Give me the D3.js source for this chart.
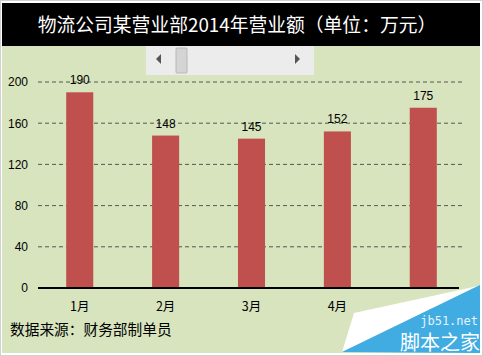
<!DOCTYPE html>
<html><head><meta charset="utf-8">
<script src="https://cdn.jsdelivr.net/npm/d3@7/dist/d3.min.js"></script>
<style>body{margin:0;background:#fff;}svg{display:block;}</style>
</head><body>
<script>
const categories = ["1月","2月","3月","4月","5月"];
const values = [190,148,145,152,175];
const yTicks = [0,40,80,120,160,200];
const title = "物流公司某营业部2014年营业额（单位：万元）";
const source = "数据来源：财务部制单员";

const W=483,H=356;
const svg=d3.select("body").append("svg").attr("width",W).attr("height",H);
const cjk="'Noto Sans CJK SC','Microsoft YaHei',sans-serif";
const lat="Arial,'Liberation Sans',sans-serif";

svg.append("rect").attr("x",0.5).attr("y",0.5).attr("width",W-1).attr("height",H-1).attr("fill","#fff").attr("stroke","#d0d0d0");
svg.append("rect").attr("x",2).attr("y",46).attr("width",478).attr("height",307).attr("fill","#D7E4BD");
svg.append("rect").attr("x",2).attr("y",3).attr("width",478).attr("height",43).attr("fill","#000");
svg.append("text").attr("x",237).attr("y",32).attr("text-anchor","middle").attr("fill","#fff")
  .attr("font-family",cjk).attr("font-size",18.8).text(title);

const x=d3.scaleBand().domain(categories).range([37,466]).paddingInner(0.685).paddingOuter(0.34);
const y=d3.scaleLinear().domain([0,200]).range([288,82]);

// grid
svg.append("g").selectAll("line").data(yTicks.filter(d=>d>0)).join("line")
  .attr("x1",38).attr("x2",463).attr("y1",d=>y(d)).attr("y2",d=>y(d))
  .attr("stroke","#333").attr("stroke-width",0.8).attr("stroke-dasharray","4,3");

// y axis labels
const ya=svg.append("g").attr("transform","translate(28,0)").call(d3.axisLeft(y).tickValues(yTicks).tickSize(0).tickPadding(0));
ya.select(".domain").remove();
ya.selectAll("text").attr("font-family",lat).attr("font-size",12).attr("fill","#000");

// bars
svg.append("g").selectAll("rect").data(values).join("rect")
  .attr("x",(d,i)=>x(categories[i])).attr("width",x.bandwidth())
  .attr("y",d=>y(d)).attr("height",d=>y(0)-y(d)).attr("fill","#C0504D");

svg.append("g").selectAll("text").data(values).join("text")
  .attr("x",(d,i)=>x(categories[i])+x.bandwidth()/2).attr("y",d=>y(d)-8)
  .attr("text-anchor","middle").attr("font-family",lat).attr("font-size",12).attr("fill","#000").text(d=>d);

// baseline
svg.append("line").attr("x1",38).attr("x2",459).attr("y1",y(0)).attr("y2",y(0)).attr("stroke","#000").attr("stroke-width",2);

// x labels
const xa=svg.append("g").attr("transform","translate(0,300)").call(d3.axisBottom(x).tickSize(0).tickPadding(0));
xa.select(".domain").remove();
xa.selectAll("text").attr("font-family",cjk).attr("font-size",12.5).attr("fill","#000").attr("dy","0.9em");

// scrollbar
const sb=svg.append("g");
sb.append("rect").attr("x",146).attr("y",46).attr("width",168).attr("height",29).attr("fill","#ECECEC");
sb.append("path").attr("d","M156,59 L161,54 L161,64 Z").attr("fill","#555");
sb.append("path").attr("d","M300,59 L295,54 L295,64 Z").attr("fill","#555");
sb.append("rect").attr("x",176).attr("y",48).attr("width",11).attr("height",25).attr("rx",1).attr("fill","#D4D4D4").attr("stroke","#B8B8B8");

// source
svg.append("text").attr("x",10).attr("y",335).attr("font-family",cjk).attr("font-size",14.7).attr("fill","#000").text(source);

// watermark
svg.append("path").attr("d","M354,313 L478,286 L342,352 Z").attr("fill","#fff");
svg.append("path").attr("d","M342,352 L480,285 L480,353 Z").attr("fill","#41ACE2");
svg.append("text").attr("x",478).attr("y",325).attr("text-anchor","end").attr("font-family","'DejaVu Sans Mono',monospace").attr("font-size",12).attr("fill","#E6F3FB").text("jb51.net");
svg.append("text").attr("x",480).attr("y",350).attr("text-anchor","end").attr("font-family",cjk).attr("font-size",20).attr("fill","#fff").text("脚本之家");
</script>
</body></html>
